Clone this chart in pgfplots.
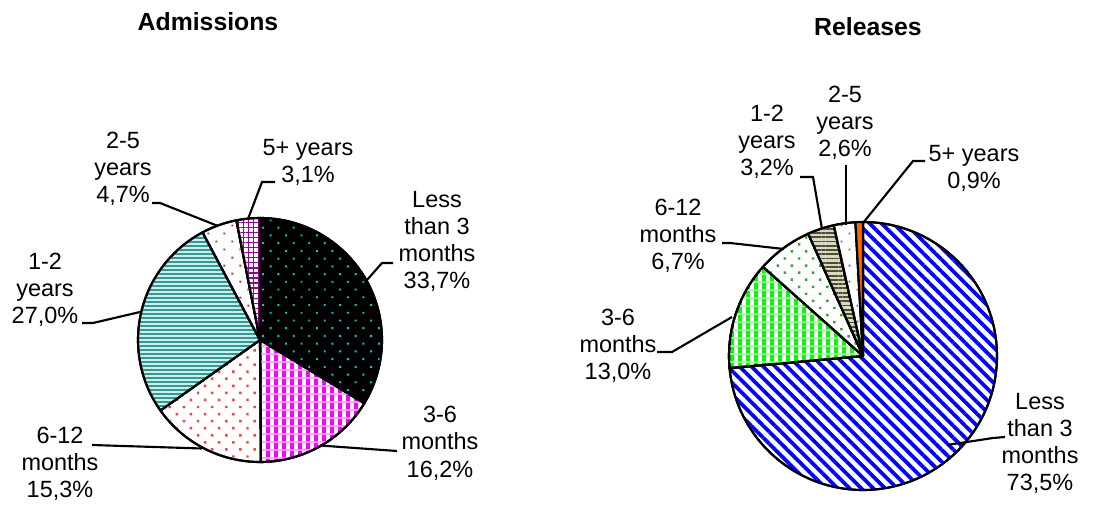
\documentclass[border=0pt]{standalone}
\usepackage{pgfplots}
\pgfplotsset{compat=1.18}
\usetikzlibrary{patterns,patterns.meta}
\usepackage{fontspec}
\setmainfont{Liberation Sans}

\definecolor{dotcyan}{HTML}{00CCCC}
\definecolor{tealline}{HTML}{2E9A94}
\definecolor{tealfill}{HTML}{D2ECEA}
\definecolor{dotred}{HTML}{FF4040}
\definecolor{dotbrown}{HTML}{B03A3A}
\definecolor{gridpurple}{HTML}{990099}
\definecolor{stripeblue}{HTML}{0000FF}
\definecolor{plaidmag}{HTML}{FF00FF}
\definecolor{palemag}{HTML}{FFA6FF}
\definecolor{plaidgreen}{HTML}{00FF00}
\definecolor{palegreen}{HTML}{A6FFA6}
\definecolor{markgreen}{HTML}{3CA03C}
\definecolor{khakifill}{HTML}{D8D8C2}
\definecolor{khakiline}{HTML}{4D4D33}
\definecolor{dotpurple}{HTML}{A040C0}
\definecolor{sliceorange}{HTML}{FF6600}

% cx, cy (pixels), radius, cumulative start %, cumulative end %, total, style
\newcommand{\slice}[7]{%
  \pgfmathsetmacro{\sa}{90-(#4/#6)*360}%
  \pgfmathsetmacro{\ea}{90-(#5/#6)*360}%
  \edef\doslice{\noexpand\addplot[#7, draw=black, line width=1.6pt, line join=round]
    coordinates {(#1,#2)} -- ([shift={(\sa:#3)}]axis cs:#1,#2)
    arc[start angle=\sa, end angle=\ea, radius=#3] -- cycle;}%
  \doslice}

\tikzset{lbl/.style={align=center, font=\fontsize{17.6pt}{20.3pt}\selectfont},
         ttl/.style={font=\fontsize{18.6pt}{21pt}\selectfont\bfseries}}

\begin{document}
\begin{tikzpicture}
\useasboundingbox (0,0) rectangle (829.5pt,379.5pt);
\begin{axis}[at={(0,0)}, anchor=south west, scale only axis,
  width=829.5pt, height=379.5pt,
  xmin=0, xmax=1106, ymin=0, ymax=506, y dir=reverse,
  hide axis, clip=false]

% ---------- Admissions ----------
\slice{260}{340}{91.5pt}{0}{33.7}{100}{preaction={fill=black},
  pattern={Dots[distance=8.2pt,radius=1pt,angle=45]}, pattern color=dotcyan}
\slice{260}{340}{91.5pt}{33.7}{49.9}{100}{preaction={fill=plaidmag},
  pattern={Lines[angle=90,distance=6pt,line width=2.5pt]}, pattern color=white}
\slice{260}{340}{91.5pt}{33.7}{49.9}{100}{
  pattern={Lines[angle=0,distance=6pt,line width=2pt]}, pattern color=palemag}
\slice{260}{340}{91.5pt}{49.9}{65.2}{100}{preaction={fill=white},
  pattern={Dots[distance=7.5pt,radius=1.3pt,angle=45]}, pattern color=dotred}
\slice{260}{340}{91.5pt}{65.2}{92.2}{100}{preaction={fill=tealfill},
  pattern={Lines[angle=0,distance=3pt,line width=1.5pt]}, pattern color=tealline}
\slice{260}{340}{91.5pt}{92.2}{96.9}{100}{preaction={fill=white},
  pattern={Dots[distance=8.5pt,radius=1pt,angle=45]}, pattern color=dotbrown}
\slice{260}{340}{91.5pt}{96.9}{100}{100}{preaction={fill=white},
  pattern={Hatch[distance=3.8pt,line width=1pt]}, pattern color=gridpurple}

% leader lines
\addplot[black, line width=1.6pt] coordinates {(393,263) (382,263) (367,280)};
\addplot[black, line width=1.6pt] coordinates {(397,451) (383,450) (320,445.5)};
\addplot[black, line width=1.6pt] coordinates {(92,445) (202,448.5)};
\addplot[black, line width=1.6pt] coordinates {(82,323) (93,323) (140,312)};
\addplot[black, line width=1.6pt] coordinates {(152,203) (160,203) (218,226)};
\addplot[black, line width=1.6pt] coordinates {(275,182) (262,182) (248,219)};

\node[lbl] at (axis cs:437,241.7) {Less\\than 3\\months\\33,7\%};
\node[lbl] at (axis cs:440,443.3) {3-6\\months\\16,2\%};
\node[lbl] at (axis cs:60,464) {6-12\\months\\15,3\%};
\node[lbl] at (axis cs:45,290) {1-2\\years\\27,0\%};
\node[lbl] at (axis cs:123,169) {2-5\\years\\4,7\%};
\node[lbl] at (axis cs:308,162.5) {5+ years\\3,1\%};
\node[ttl] at (axis cs:208,22) {Admissions};

% ---------- Releases ----------
\slice{863}{356}{100.5pt}{0}{73.5}{99.9}{preaction={fill=white},
  pattern={Lines[angle=-45,distance=6.3pt,line width=2.8pt]}, pattern color=stripeblue}
\slice{863}{356}{100.5pt}{73.5}{86.5}{99.9}{preaction={fill=plaidgreen},
  pattern={Lines[angle=90,distance=6pt,line width=2.5pt]}, pattern color=white}
\slice{863}{356}{100.5pt}{73.5}{86.5}{99.9}{
  pattern={Lines[angle=0,distance=6pt,line width=2pt]}, pattern color=palegreen}
\slice{863}{356}{100.5pt}{86.5}{93.2}{99.9}{preaction={fill=white},
  pattern={Dots[distance=7.5pt,radius=1.3pt,angle=45]}, pattern color=markgreen}
\slice{863}{356}{100.5pt}{93.2}{96.4}{99.9}{preaction={fill=khakifill},
  pattern={Lines[angle=0,distance=3.2pt,line width=1.4pt]}, pattern color=khakiline}
\slice{863}{356}{100.5pt}{96.4}{99.0}{99.9}{preaction={fill=white},
  pattern={Dots[distance=8.5pt,radius=1pt,angle=45]}, pattern color=dotpurple}
\slice{863}{356}{100.5pt}{99.0}{99.9}{99.9}{fill=sliceorange}

\addplot[black, line width=1.6pt] coordinates {(1005,437) (993,438) (947,445)};
\addplot[black, line width=1.6pt] coordinates {(657,352) (672,352) (732,317)};
\addplot[black, line width=1.6pt] coordinates {(722,243) (730,243) (784,249)};
\addplot[black, line width=1.6pt] coordinates {(800,177) (813,177) (822,229)};
\addplot[black, line width=1.6pt] coordinates {(846,165) (846,225)};
\addplot[black, line width=1.6pt] coordinates {(925,161) (913,161) (863,223)};

\node[lbl] at (axis cs:1040,443.5) {Less\\than 3\\months\\73,5\%};
\node[lbl] at (axis cs:618,346) {3-6\\months\\13,0\%};
\node[lbl] at (axis cs:678,236) {6-12\\months\\6,7\%};
\node[lbl] at (axis cs:767,141.5) {1-2\\years\\3,2\%};
\node[lbl] at (axis cs:845,123) {2-5\\years\\2,6\%};
\node[lbl] at (axis cs:974,168) {5+ years\\0,9\%};
\node[ttl] at (axis cs:868,27) {Releases};
\end{axis}
\end{tikzpicture}
\end{document}
